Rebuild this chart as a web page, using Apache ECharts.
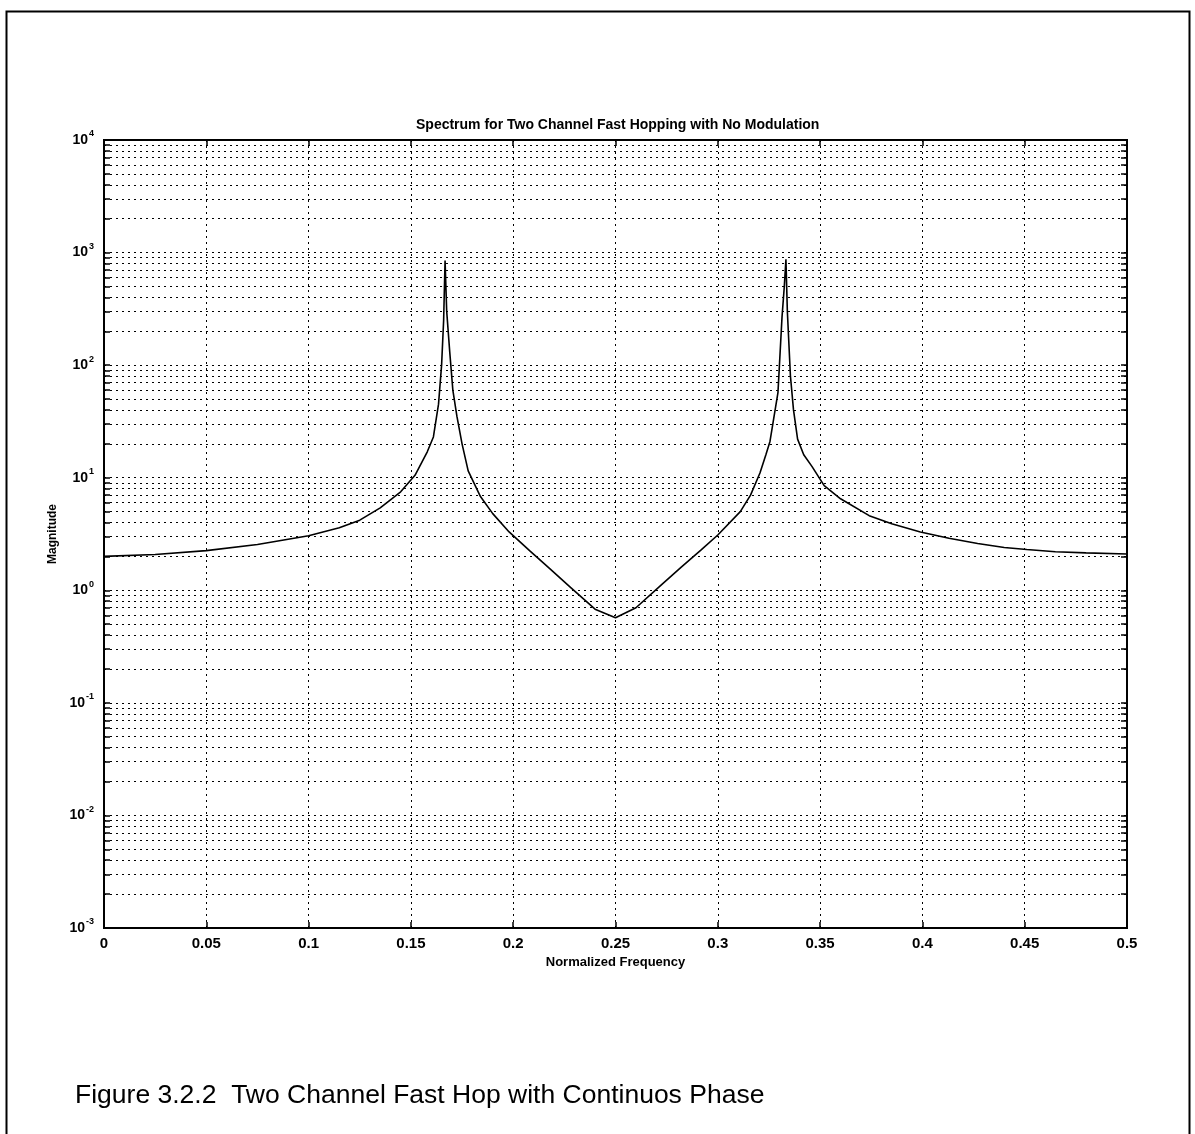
<!DOCTYPE html>
<html><head><meta charset="utf-8">
<script src="https://cdn.jsdelivr.net/npm/echarts@6/dist/echarts.min.js"></script>
<style>html,body{margin:0;padding:0;background:#fff;} #c{width:1195px;height:1134px;}</style>
</head><body><div id="c"></div>
<script>
// ---- data ----
const freq = [0, 0.025, 0.05, 0.075, 0.1, 0.115, 0.125, 0.135, 0.145, 0.152, 0.158, 0.161, 0.1635, 0.165, 0.166, 0.1667, 0.1675, 0.169, 0.1705, 0.1725, 0.175, 0.178, 0.184, 0.19, 0.198, 0.208, 0.218, 0.228, 0.24, 0.25, 0.26, 0.272, 0.282, 0.292, 0.3, 0.311, 0.316, 0.3206, 0.3235, 0.3255, 0.3275, 0.3294, 0.3314, 0.3325, 0.3333, 0.334, 0.3355, 0.337, 0.339, 0.342, 0.346, 0.352, 0.36, 0.374, 0.385, 0.399, 0.413, 0.427, 0.44, 0.451, 0.465, 0.48, 0.5];
const magnitude = [2.0, 2.08, 2.25, 2.55, 3.05, 3.6, 4.2, 5.4, 7.5, 10.5, 17, 23, 45, 100, 250, 850, 300, 130, 60, 35, 20, 11.5, 6.8, 4.8, 3.3, 2.25, 1.55, 1.06, 0.68, 0.57, 0.7, 1.1, 1.6, 2.3, 3.1, 5.0, 7, 11, 16, 21, 35, 57, 270, 500, 870, 300, 80, 40, 22, 16, 12.6, 8.5, 6.5, 4.6, 3.9, 3.3, 2.9, 2.6, 2.4, 2.3, 2.2, 2.15, 2.1];
const xTickValues = [0, 0.05, 0.1, 0.15, 0.2, 0.25, 0.3, 0.35, 0.4, 0.45, 0.5];
const xTickLabels = ['0', '0.05', '0.1', '0.15', '0.2', '0.25', '0.3', '0.35', '0.4', '0.45', '0.5'];
const yExponents = [-3, -2, -1, 0, 1, 2, 3, 4];
const yMantissas = [1, 2, 3, 4, 5, 6, 7, 8, 9];
const titleText = 'Spectrum for Two Channel Fast Hopping with No Modulation';
const xName = 'Normalized Frequency';
const yName = 'Magnitude';
const caption = 'Figure 3.2.2  Two Channel Fast Hop with Continuos Phase';

// ---- derived ----
const yDecades = yExponents.map(e => Math.pow(10, e));
const yTicks = [];
yExponents.forEach((e, i) => {
  if (i === yExponents.length - 1) { yTicks.push(Math.pow(10, e)); return; }
  yMantissas.forEach(m => yTicks.push(m * Math.pow(10, e)));
});
const seriesData = freq.map((f, i) => [f, magnitude[i]]);

const FONT = '"Liberation Sans Narrow", "Liberation Sans", Arial, sans-serif';
const dotted = {color: '#000', width: 1, type: [2, 4]};
const tickStyle = {show: true, inside: true, length: 6, lineStyle: {color: '#000', width: 1.5}};

const chart = echarts.init(document.getElementById('c'), null, {renderer: 'canvas'});
const yLabelFmt = v => {
  const e = Math.round(Math.log10(v));
  return '{b|10}{s|' + e + '}';
};
chart.setOption({
  backgroundColor: '#fff',
  animation: false,
  title: {
    text: titleText, left: 411, top: 113,
    textStyle: {fontFamily: FONT, fontSize: 14, fontWeight: 'bold', color: '#000'}
  },
  grid: {left: 104, top: 140, right: 68, bottom: 206, show: true, borderColor: '#000', borderWidth: 2, containLabel: false},
  xAxis: [{
    type: 'value', min: 0, max: 0.5, interval: 0.05, position: 'bottom',
    name: xName, nameLocation: 'middle', nameGap: 28,
    nameTextStyle: {fontFamily: FONT, fontSize: 13, fontWeight: 'bold', color: '#000'},
    axisLine: {show: true, onZero: false, lineStyle: {color: '#000', width: 2}},
    axisTick: tickStyle,
    axisLabel: {fontFamily: FONT, fontSize: 15, fontWeight: 'bold', color: '#000', margin: 8,
      formatter: v => { const i = xTickValues.findIndex(t => Math.abs(t - v) < 1e-9); return i >= 0 ? xTickLabels[i] : ''; }},
    splitLine: {show: true, lineStyle: dotted}
  }, {
    type: 'value', min: 0, max: 0.5, interval: 0.05, position: 'top',
    axisLine: {show: true, onZero: false, lineStyle: {color: '#000', width: 2}},
    axisTick: tickStyle, axisLabel: {show: false}, splitLine: {show: false}
  }],
  yAxis: [{
    type: 'log', logBase: 10, min: 0.001, max: 10000, position: 'left',
    name: yName, nameLocation: 'middle', nameGap: 42,
    nameTextStyle: {fontFamily: FONT, fontSize: 12, fontWeight: 'bold', color: '#000'},
    axisLine: {show: true, lineStyle: {color: '#000', width: 2}},
    axisTick: Object.assign({customValues: yTicks}, tickStyle),
    axisLabel: {customValues: yDecades, formatter: yLabelFmt, margin: 10,
      rich: {
        b: {fontFamily: FONT, fontSize: 14, fontWeight: 'bold', color: '#000'},
        s: {fontFamily: FONT, fontSize: 9, fontWeight: 'bold', color: '#000', padding: [0, 0, 12, 1]}
      }},
    splitLine: {show: true, lineStyle: dotted}
  }, {
    type: 'log', logBase: 10, min: 0.001, max: 10000, position: 'right',
    axisLine: {show: true, onZero: false, lineStyle: {color: '#000', width: 2}},
    axisTick: Object.assign({customValues: yTicks}, tickStyle),
    axisLabel: {show: false}, splitLine: {show: false}
  }],
  series: [{
    type: 'line', data: seriesData, xAxisIndex: 0, yAxisIndex: 0,
    showSymbol: false, symbol: 'none', smooth: false,
    lineStyle: {color: '#000', width: 1.6}
  }],
  graphic: [
    {type: 'rect', left: 4, top: 9, shape: {width: 1183, height: 1140}, style: {fill: 'none', stroke: '#000', lineWidth: 2}, z: 100},
    {type: 'text', left: 75, top: 1082, style: {text: caption, font: '26.5px "Liberation Sans", Arial, sans-serif', fill: '#000'}}
  ]
});
</script></body></html>
